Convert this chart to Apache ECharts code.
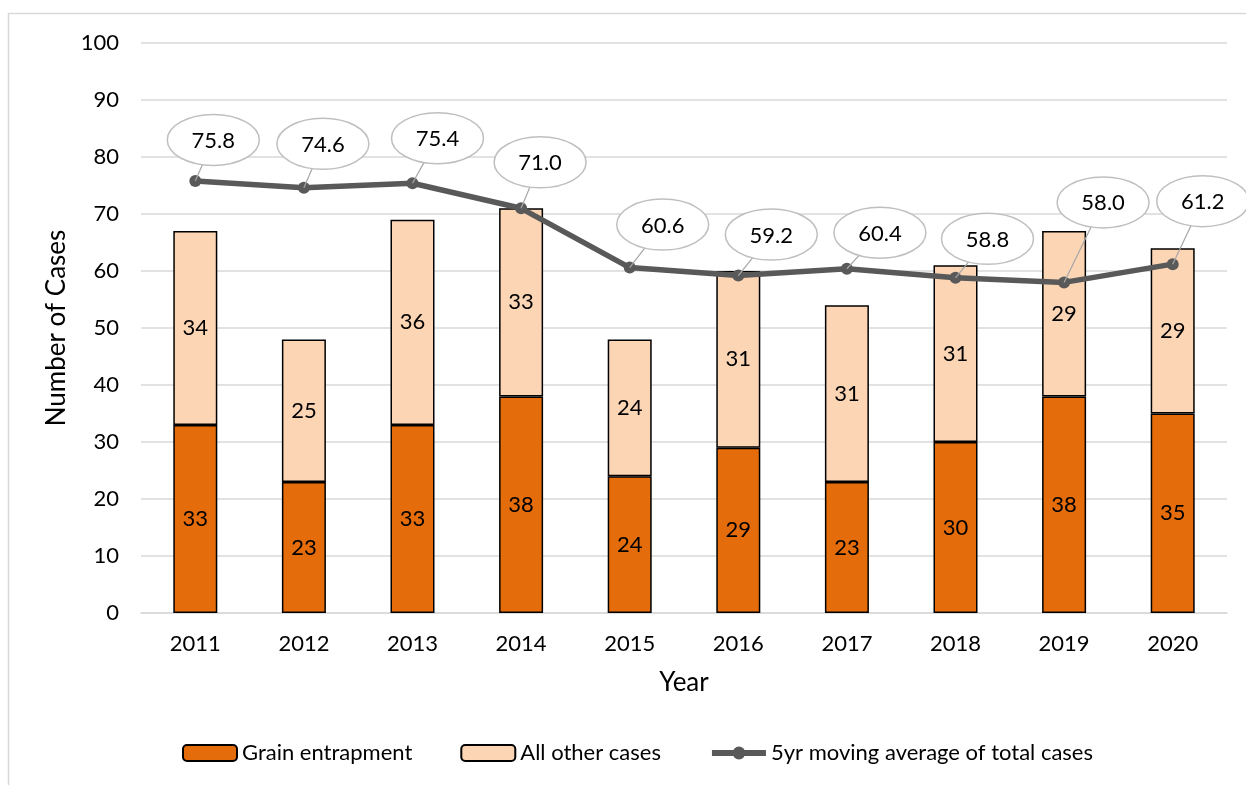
<!DOCTYPE html>
<html><head><meta charset="utf-8">
<script src="https://cdn.jsdelivr.net/npm/echarts@6/dist/echarts.min.js"></script>
<style>html,body{margin:0;padding:0;background:#fff}#c{width:1246px;height:785px}</style>
</head><body><div id="c"></div>
<script>
// ---- data ----
const years = ['2011','2012','2013','2014','2015','2016','2017','2018','2019','2020'];
const grainEntrapment = [33,23,33,38,24,29,23,30,38,35];
const allOtherCases = [34,25,36,33,24,31,31,31,29,29];
const movingAverage = [75.8,74.6,75.4,71.0,60.6,59.2,60.4,58.8,58.0,61.2];
const yMin = 0, yMax = 100, yStep = 10;

// ---- layout of the callouts (relative offsets from each point, px) ----
const calloutOffsets = [[18,-41],[19,-44],[25,-45],[19,-46],[33,-43],[33,-41],[33,-36],[32,-39],[39,-80],[30,-63]];

const FONT = 'Lato, "Open Sans", sans-serif';
const FS = 22;
const chart = echarts.init(document.getElementById('c'), null, {renderer:'canvas'});

chart.setOption({
  animation: false,
  textStyle: {fontFamily: FONT, color: '#000'},
  graphic: [{
    type: 'rect', z: -10, silent: true,
    shape: {x: 8.5, y: 13.5, width: 1400, height: 900},
    style: {fill: 'none', stroke: '#D9D9D9', lineWidth: 1.5}
  }],
  grid: {left: 141, right: 19, top: 43, bottom: 172},
  legend: {
    left: 177, top: 737,
    itemWidth: 54, itemHeight: 16, itemGap: 48,
    textStyle: {fontSize: FS, fontFamily: FONT, color: '#000'},
    data: [
      {name: 'Grain entrapment'},
      {name: 'All other cases'},
      {name: '5yr moving average of total cases', lineStyle: {width: 6, color: '#595959'}, itemStyle: {color: '#595959'}}
    ]
  },
  xAxis: {
    type: 'category', data: years,
    name: 'Year', nameLocation: 'middle', nameGap: 57,
    nameTextStyle: {fontSize: 26, fontFamily: FONT, color: '#000'},
    axisTick: {show: false},
    axisLine: {lineStyle: {color: '#D9D9D9', width: 1.5}},
    axisLabel: {fontSize: FS, fontFamily: FONT, color: '#000', margin: 20}
  },
  yAxis: {
    type: 'value', min: yMin, max: yMax, interval: yStep,
    name: 'Number of Cases', nameLocation: 'middle', nameGap: 63, nameRotate: 90,
    nameTextStyle: {fontSize: 26, fontFamily: FONT, color: '#000'},
    axisLine: {show: false}, axisTick: {show: false},
    axisLabel: {fontSize: FS, fontFamily: FONT, color: '#000', margin: 22},
    splitLine: {lineStyle: {color: '#D9D9D9', width: 1.5}}
  },
  series: [
    {
      name: 'Grain entrapment', type: 'bar', stack: 'total', barWidth: 44,
      data: grainEntrapment,
      itemStyle: {color: '#E46C0A', borderColor: '#000', borderWidth: 1.5},
      label: {show: true, position: 'inside', fontSize: FS, fontFamily: FONT, color: '#000'}
    },
    {
      name: 'All other cases', type: 'bar', stack: 'total', barWidth: 44,
      data: allOtherCases,
      itemStyle: {color: '#FCD5B5', borderColor: '#000', borderWidth: 1.5},
      label: {show: true, position: 'inside', fontSize: FS, fontFamily: FONT, color: '#000'}
    },
    {
      name: '5yr moving average of total cases', type: 'line',
      data: movingAverage, z: 5,
      symbol: 'circle', symbolSize: 12,
      lineStyle: {color: '#595959', width: 5.5},
      itemStyle: {color: '#595959'}
    },
    {
      name: 'callouts', type: 'custom', z: 10, silent: true,
      data: movingAverage.map((v, i) => [i, v]),
      encode: {x: 0, y: 1},
      renderItem: function (params, api) {
        const i = params.dataIndex;
        const p = api.coord([api.value(0), api.value(1)]);
        const off = calloutOffsets[i];
        const cx = p[0] + off[0], cy = p[1] + off[1];
        const rx = 46, ry = 25.5;
        const dx = p[0] - cx, dy = p[1] - cy;
        const s = 1 / Math.sqrt((dx / rx) * (dx / rx) + (dy / ry) * (dy / ry));
        const ex = cx + dx * s, ey = cy + dy * s;
        return {
          type: 'group',
          children: [
            {type: 'line', shape: {x1: p[0], y1: p[1], x2: ex, y2: ey}, style: {stroke: '#A6A6A6', lineWidth: 1.2}},
            {type: 'ellipse', shape: {cx: cx, cy: cy, rx: rx, ry: ry}, style: {fill: '#fff', stroke: '#BFBFBF', lineWidth: 1.5}},
            {type: 'text', x: cx, y: cy + 1, style: {text: movingAverage[i].toFixed(1), fill: '#000', fontSize: FS, fontFamily: FONT, align: 'center', verticalAlign: 'middle'}}
          ]
        };
      }
    }
  ]
});
</script>
</body></html>
